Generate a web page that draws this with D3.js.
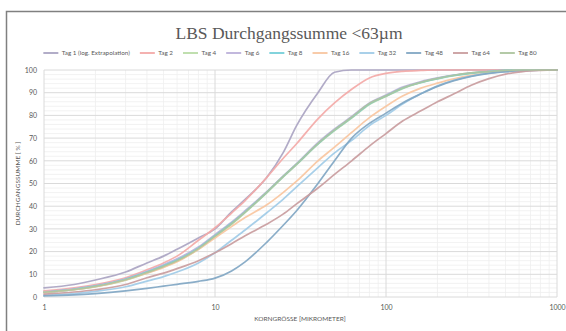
<!DOCTYPE html>
<html><head><meta charset="utf-8">
<script src="https://cdn.jsdelivr.net/npm/d3@7"></script>
<style>body{margin:0;background:#fff;}svg{display:block;}</style>
</head><body>
<svg id="c" width="566" height="331"></svg>
<script>
const sizes = [1,1.5,2,3,4,5,6,8,10,12.5,15,20,25,30,40,50,63,80,100,125,160,200,250,315,400,500,630,800,1000];
const tag1  = [4,5.5,7.5,11,15,18,21,26,30,37.5,43,52.5,63.5,75.5,90,99,100,100,100,100,100,100,100,100,100,100,100,100,100];
const tag2  = [2.7,4,5.5,8.5,12,15,18,25,30.5,37,42.5,52.5,61,67.5,78.5,85.5,91.5,96.5,98.5,99.4,99.8,100,100,100,100,100,100,100,100];
const tag4  = [2.0,3.2,4.5,7.4,10.5,13.2,15.8,21,26.5,32,37.2,45.8,52.8,58.3,67.3,73.3,78.8,84.8,88.3,91.8,94.4,96.1,97.5,98.5,99.3,99.8,100,100,100];
const tag6  = [2.3,3.6,5,8,11.3,14.2,16.8,22,27.5,33,38,46.3,53.3,58.8,68,74,79.5,85.5,89,92.5,94.9,96.5,97.8,98.8,99.4,99.8,100,100,100];
const tag8  = [2.1,3.4,4.8,7.8,11,13.8,16.3,21.5,27,32.5,37.5,46,53,58.5,67.5,73.5,79,85,88.5,92,94.5,96.2,97.6,98.6,99.3,99.8,100,100,100];
const tag16 = [2,3.2,4.5,7.5,10.5,13,15.5,21,26,31,35,40.5,46,51,60,66,72.5,79,84,88.5,92,94.2,96.1,97.6,98.7,99.4,99.8,100,100];
const tag32 = [0.8,1.5,2.5,4.5,7,9,11,15,19.5,25,29.5,37,43,48.5,57,63.5,69,75.5,80,85,89.5,93,95.5,97.3,98.6,99.3,99.7,99.9,100];
const tag48 = [0.5,0.9,1.5,2.7,3.8,4.8,5.6,6.9,8.3,11.5,15.5,24,31.5,38,50,60,70,76.5,81,85.5,89.5,92.8,95.3,97.2,98.5,99.3,99.7,99.9,100];
const tag64 = [1.3,2.2,3.2,5.5,8.5,10.5,12.5,16,19.5,23.5,27,32,36.5,41,48,54,60,66.5,72,77.5,82,86,89.5,93.3,96.2,98.2,99.3,99.8,100];
const tag80 = [2.1,3.3,4.7,7.6,10.8,13.5,16,21.3,26.8,32.3,37.4,46,53,58.5,67.6,73.6,79.2,85.2,88.6,92.1,94.6,96.3,97.7,98.7,99.3,99.8,100,100,100];
const seriesNames = ["Tag 1 (log. Extrapolation)","Tag 2","Tag 4","Tag 6","Tag 8","Tag 16","Tag 32","Tag 48","Tag 64","Tag 80"];
const seriesValues = [tag1,tag2,tag4,tag6,tag8,tag16,tag32,tag48,tag64,tag80];
const colors = ["#aaa4c2","#f3a9a7","#b9dca6","#bcb0da","#74cfd9","#f8c6a0","#a0cbe7","#80a6c3","#c99c9e","#acc49e"];
const xTicks = [1,10,100,1000];
const yTicks = [0,10,20,30,40,50,60,70,80,90,100];
const title = "LBS Durchgangssumme <63µm";
const xTitle = "KORNGRÖSSE [MIKROMETER]";
const yTitle = "DURCHGANGSSUMME [ % ]";

const svg = d3.select("#c");
const X0=44, X1=557, Y0=70, Y1=297;
const x = d3.scaleLog().domain([1,1000]).range([X0,X1]);
const y = d3.scaleLinear().domain([0,100]).range([Y1,Y0]);
const font = "Lato, 'Open Sans', sans-serif";

// frame
svg.append("rect").attr("x",6.5).attr("y",11.5).attr("width",700).attr("height",500)
  .attr("fill","#fff").attr("stroke","#808080").attr("stroke-width",1.5);

// title
svg.append("text").attr("x",289).attr("y",39).attr("text-anchor","middle")
  .attr("font-family","'Liberation Serif', serif").attr("font-size",17.5).attr("fill","#595959").text(title);

// grid
const g = svg.append("g");
const minorX = [];
[1,10,100].forEach(dec=>{for(let k=2;k<=9;k++) minorX.push(dec*k);});
const minorY = d3.range(0,101,2).filter(v=>v%10!==0);
g.selectAll(".mx").data(minorX).join("line").attr("x1",d=>x(d)).attr("x2",d=>x(d)).attr("y1",Y0).attr("y2",Y1).attr("stroke","#efefef").attr("stroke-width",0.8);
g.selectAll(".my").data(minorY).join("line").attr("class","my").attr("x1",X0).attr("x2",X1).attr("y1",d=>y(d)).attr("y2",d=>y(d)).attr("stroke","#efefef").attr("stroke-width",0.8);
g.selectAll(".Mx").data(xTicks).join("line").attr("class","Mx").attr("x1",d=>x(d)).attr("x2",d=>x(d)).attr("y1",Y0).attr("y2",Y1).attr("stroke","#dadada").attr("stroke-width",1);
g.selectAll(".My").data(yTicks).join("line").attr("class","My").attr("x1",X0).attr("x2",X1).attr("y1",d=>y(d)).attr("y2",d=>y(d)).attr("stroke","#dadada").attr("stroke-width",1);

// axes labels
const ax = svg.append("g").attr("transform",`translate(0,${Y1})`)
  .call(d3.axisBottom(x).tickValues(xTicks).tickFormat(d3.format("d")).tickSize(0).tickPadding(8));
ax.select(".domain").remove();
ax.selectAll("text").attr("font-family",font).attr("font-size",7).attr("fill","#595959");
const ay = svg.append("g").attr("transform",`translate(${X0},0)`)
  .call(d3.axisLeft(y).tickValues(yTicks).tickSize(0).tickPadding(7));
ay.select(".domain").remove();
ay.selectAll("text").attr("font-family",font).attr("font-size",7).attr("fill","#595959");

svg.append("text").attr("x",300).attr("y",321).attr("text-anchor","middle")
  .attr("font-family",font).attr("font-size",6.5).attr("fill","#595959").text(xTitle);
svg.append("text").attr("transform",`translate(20,${(Y0+Y1)/2}) rotate(-90)`).attr("text-anchor","middle")
  .attr("font-family",font).attr("font-size",6.5).attr("fill","#595959").text(yTitle);

// lines
const line = d3.line().x(d=>x(d[0])).y(d=>y(d[1])).curve(d3.curveMonotoneX);
seriesValues.forEach((vals,i)=>{
  svg.append("path").datum(sizes.map((s,j)=>[s,vals[j]]))
    .attr("d",line).attr("fill","none").attr("stroke",colors[i]).attr("stroke-width",1.7)
    .attr("stroke-opacity",0.92)
    .attr("stroke-linejoin","round").attr("stroke-linecap","round");
});

// legend
const lg = svg.append("g");
let cx = 0;
seriesNames.forEach((n,i)=>{
  const it = lg.append("g");
  it.append("line").attr("x1",0).attr("x2",15).attr("y1",0).attr("y2",0).attr("stroke",colors[i]).attr("stroke-width",1.8);
  const t = it.append("text").attr("x",18.5).attr("y",2.2).attr("font-family",font).attr("font-size",6.3).attr("fill","#595959").text(n);
  const w = 18.5 + t.node().getComputedTextLength();
  it.attr("transform",`translate(${cx},0)`);
  cx += w + 10;
});
const total = cx - 10;
lg.attr("transform",`translate(${290 - total/2},53)`);
</script>
</body></html>
